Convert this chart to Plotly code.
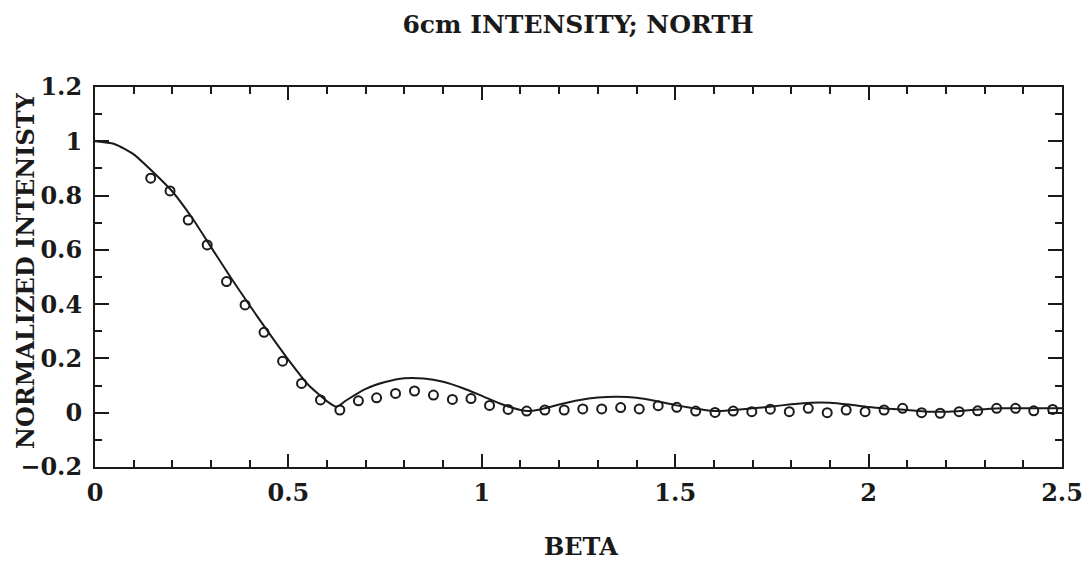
import plotly.graph_objects as go

# Measured data (circles)
beta_obs = [0.144, 0.194, 0.241, 0.290, 0.340, 0.388, 0.437, 0.485, 0.534, 0.583,
            0.633, 0.681, 0.728, 0.777, 0.826, 0.875, 0.924, 0.972, 1.020, 1.068,
            1.116, 1.163, 1.213, 1.261, 1.310, 1.359, 1.407, 1.456, 1.504, 1.553,
            1.603, 1.650, 1.698, 1.746, 1.795, 1.844, 1.893, 1.942, 1.991, 2.040,
            2.088, 2.137, 2.185, 2.234, 2.282, 2.331, 2.380, 2.427, 2.476]
intensity_obs = [0.864, 0.817, 0.710, 0.618, 0.483, 0.397, 0.296, 0.190, 0.108, 0.047,
                 0.010, 0.044, 0.055, 0.071, 0.080, 0.065, 0.049, 0.052, 0.027, 0.012,
                 0.006, 0.010, 0.010, 0.014, 0.014, 0.019, 0.014, 0.026, 0.020, 0.006,
                 0.001, 0.006, 0.004, 0.013, 0.004, 0.016, 0.000, 0.010, 0.004, 0.010,
                 0.016, 0.000, -0.002, 0.004, 0.007, 0.016, 0.016, 0.007, 0.012]

# Model curve (solid line)
beta_model = [0.0, 0.05, 0.1, 0.15, 0.2, 0.25, 0.3, 0.35, 0.4, 0.45, 0.5, 0.55, 0.6,
              0.625, 0.65, 0.7, 0.75, 0.8, 0.85, 0.9, 0.95, 1.0, 1.05, 1.1, 1.12,
              1.15, 1.2, 1.25, 1.3, 1.35, 1.4, 1.45, 1.5, 1.55, 1.6, 1.65, 1.7, 1.75,
              1.8, 1.85, 1.9, 1.95, 2.0, 2.05, 2.1, 2.15, 2.2, 2.25, 2.3, 2.35, 2.4,
              2.45, 2.5]
intensity_model = [1.000, 0.990, 0.952, 0.887, 0.815, 0.720, 0.610, 0.500, 0.395, 0.293,
                   0.195, 0.105, 0.042, 0.022, 0.046, 0.088, 0.113, 0.127, 0.126, 0.114,
                   0.091, 0.062, 0.032, 0.010, 0.006, 0.012, 0.030, 0.046, 0.056, 0.059,
                   0.055, 0.043, 0.028, 0.016, 0.006, 0.010, 0.016, 0.023, 0.031, 0.037,
                   0.037, 0.030, 0.021, 0.015, 0.010, 0.004, 0.004, 0.008, 0.013, 0.016,
                   0.016, 0.016, 0.016]

x_tickvals = [0, 0.5, 1, 1.5, 2, 2.5]
x_ticktext = ["0", "0.5", "1", "1.5", "2", "2.5"]
y_tickvals = [-0.2, 0, 0.2, 0.4, 0.6, 0.8, 1, 1.2]
y_ticktext = ["\u22120.2", "0", "0.2", "0.4", "0.6", "0.8", "1", "1.2"]

FONT = "DejaVu Serif"
INK = "#1a1a1a"

fig = go.Figure()
fig.add_trace(go.Scatter(x=beta_model, y=intensity_model, mode="lines",
                         line=dict(color=INK, width=2, shape="spline", smoothing=0.6),
                         showlegend=False, hoverinfo="skip"))
fig.add_trace(go.Scatter(x=beta_obs, y=intensity_obs, mode="markers",
                         marker=dict(symbol="circle-open", size=9, color=INK,
                                     line=dict(color=INK, width=2)),
                         showlegend=False))

axis_common = dict(showgrid=False, zeroline=False, showline=True, linecolor=INK,
                   linewidth=2, ticks="inside", tickcolor=INK, tickwidth=2,
                   mirror="allticks",
                   tickfont=dict(family=FONT, size=24, color=INK, weight="bold"))

fig.update_xaxes(range=[0, 2.5], tickvals=x_tickvals, ticktext=x_ticktext,
                 ticklen=13, ticklabelstandoff=3,
                 minor=dict(ticks="inside", ticklen=7, dtick=0.1,
                            tickcolor=INK, tickwidth=2),
                 **axis_common)
fig.update_yaxes(range=[-0.2, 1.2], tickvals=y_tickvals, ticktext=y_ticktext,
                 ticklen=14, ticklabelstandoff=6,
                 minor=dict(ticks="inside", ticklen=7, dtick=0.1,
                            tickcolor=INK, tickwidth=2),
                 **axis_common)

TFONT = dict(family=FONT, size=25, color=INK, weight="bold")
YFONT = dict(family=FONT, size=24, color=INK, weight="bold")

fig.update_layout(
    width=1092, height=567,
    margin=dict(l=87, r=38, t=79, b=108),
    paper_bgcolor="white", plot_bgcolor="white",
    title=dict(text="6cm INTENSITY; NORTH", x=(578 - 8) / 1092, xanchor="center",
               y=1 - (24 - 8) / 567, yanchor="middle", font=TFONT),
    annotations=[
        dict(text="BETA", xref="paper", yref="paper", x=(581 - 95) / 967, y=-0.21,
             xanchor="center", yanchor="middle", showarrow=False, font=YFONT),
        dict(text="NORMALIZED INTENISTY", xref="paper", yref="paper",
             x=(25 - 95) / 967, y=(467 - 271) / 380, xanchor="center", yanchor="middle",
             textangle=-90, showarrow=False, font=YFONT),
    ],
)

fig.write_html("out.html")
